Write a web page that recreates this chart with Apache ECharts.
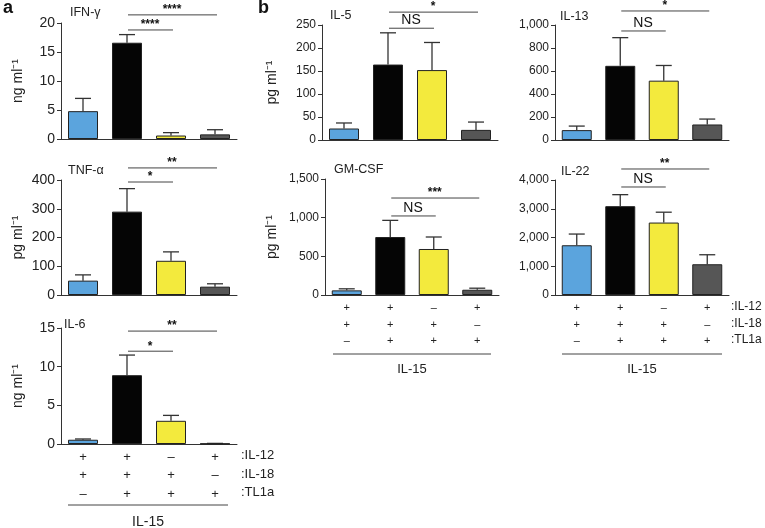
<!DOCTYPE html>
<html><head><meta charset="utf-8">
<script src="https://cdn.jsdelivr.net/npm/echarts@6/dist/echarts.min.js"></script>
<style>html,body{margin:0;padding:0;background:#fff}#c{width:765px;height:528px}</style>
</head><body><div id="c"></div>
<script>
// ---- data ----
const conditions = ['c1', 'c2', 'c3', 'c4'];
const il12Row = ['+', '+', '–', '+'];
const il18Row = ['+', '+', '+', '–'];
const tl1aRow = ['–', '+', '+', '+'];
const rowNames = [':IL-12', ':IL-18', ':TL1a'];
const groupName = 'IL-15';
const barColors = ['#5ba4dd', '#050505', '#f3ea3d', '#565656'];

const ifngMean = [4.8, 16.6, 0.6, 0.8];
const ifngErr = [7.0, 18.0, 1.1, 1.6];
const tnfMean = [50, 290, 119, 29];
const tnfErr = [70, 370, 150, 39];
const il6Mean = [0.55, 8.9, 3.0, 0.05];
const il6Err = [0.65, 11.5, 3.7, 0.08];
const il5Mean = [25, 164, 152, 22];
const il5Err = [37, 233, 212, 39];
const il13Mean = [86, 645, 516, 135];
const il13Err = [121, 890, 648, 182];
const gmcsfMean = [60, 750, 595, 68];
const gmcsfErr = [80, 965, 750, 88];
const il22Mean = [1730, 3090, 2520, 1070];
const il22Err = [2120, 3490, 2880, 1400];

// significance brackets: [from category, to category, height (data units), label]
const ifngSig = [[1, 3, 21.4, '****'], [1, 2, 18.8, '****']];
const tnfSig = [[1, 3, 442, '**'], [1, 2, 393, '*']];
const il6Sig = [[1, 3, 14.6, '**'], [1, 2, 12.0, '*']];
const il5Sig = [[1, 3, 278, '*'], [1, 2, 243, 'NS']];
const il13Sig = [[1, 3, 1122, '*'], [1, 2, 948, 'NS']];
const gmcsfSig = [[1, 3, 1254, '***'], [1, 2, 1022, 'NS']];
const il22Sig = [[1, 3, 4383, '**'], [1, 2, 3757, 'NS']];

// ---- layout ----
const FF = '"Liberation Sans", Arial, Helvetica, sans-serif';
const panels = [
  {title: 'IFN-γ', unit: 'ng ml⁻¹', mean: ifngMean, err: ifngErr, max: 20, step: 5, sig: ifngSig,
   grid: {left: 61, top: 23, width: 176, height: 116}, tpos: [70, 6], gap: 36, fs: 14, nfs: 14, bottom: false},
  {title: 'TNF-α', unit: 'pg ml⁻¹', mean: tnfMean, err: tnfErr, max: 400, step: 100, sig: tnfSig,
   grid: {left: 61, top: 180, width: 176, height: 115}, tpos: [68, 164], gap: 36, fs: 14, nfs: 14, bottom: false},
  {title: 'IL-6', unit: 'ng ml⁻¹', mean: il6Mean, err: il6Err, max: 15, step: 5, sig: il6Sig,
   grid: {left: 61, top: 328, width: 176, height: 116}, tpos: [64, 318], gap: 36, fs: 14, nfs: 14, bottom: true, lh: 18.5},
  {title: 'IL-5', unit: 'pg ml⁻¹', mean: il5Mean, err: il5Err, max: 250, step: 50, sig: il5Sig,
   grid: {left: 322, top: 25, width: 176, height: 115}, tpos: [330, 9], gap: 43, fs: 12, nfs: 14, bottom: false},
  {title: 'IL-13', unit: '', mean: il13Mean, err: il13Err, max: 1000, step: 200, sig: il13Sig,
   grid: {left: 555, top: 25, width: 174, height: 115}, tpos: [560, 10], gap: 44, fs: 12, nfs: 14, bottom: false},
  {title: 'GM-CSF', unit: 'pg ml⁻¹', mean: gmcsfMean, err: gmcsfErr, max: 1500, step: 500, sig: gmcsfSig,
   grid: {left: 325, top: 179, width: 174, height: 116}, tpos: [334, 163], gap: 46, fs: 12, nfs: 14, bottom: true, lh: 16.5},
  {title: 'IL-22', unit: '', mean: il22Mean, err: il22Err, max: 4000, step: 1000, sig: il22Sig,
   grid: {left: 555, top: 180, width: 174, height: 115}, tpos: [561, 165], gap: 44, fs: 12, nfs: 14, bottom: true, lh: 16.5}
];

const chart = echarts.init(document.getElementById('c'), null, {renderer: 'canvas'});

const series = [];
panels.forEach((p, i) => {
  series.push({
    type: 'bar', xAxisIndex: i, yAxisIndex: i, barWidth: 30, z: 3,
    data: p.mean.map((v, j) => ({value: v, itemStyle: {color: barColors[j]}})),
    itemStyle: {borderColor: '#222', borderWidth: 1},
    silent: true
  });
  series.push({
    type: 'custom', xAxisIndex: i, yAxisIndex: i, z: 2, silent: true,
    encode: {x: 0, y: [1, 2]},
    data: p.mean.map((v, j) => [j, v, p.err[j]]),
    renderItem: (params, api) => {
      const b = api.coord([api.value(0), api.value(1)]);
      const t = api.coord([api.value(0), api.value(2)]);
      const st = {stroke: '#333', lineWidth: 1.3};
      return {type: 'group', children: [
        {type: 'line', shape: {x1: b[0], y1: b[1], x2: t[0], y2: t[1]}, style: st},
        {type: 'line', shape: {x1: t[0] - 8, y1: t[1], x2: t[0] + 8, y2: t[1]}, style: st}
      ]};
    }
  });
  series.push({
    type: 'custom', xAxisIndex: i, yAxisIndex: i, z: 4, silent: true, clip: false,
    encode: {x: [0, 1], y: 2},
    data: p.sig.map(s => [s[0], s[1], s[2]]),
    renderItem: (params, api) => {
      const a = api.coord([api.value(0), api.value(2)]);
      const b = api.coord([api.value(1), api.value(2)]);
      const lab = p.sig[params.dataIndex][3];
      const isNS = lab === 'NS';
      return {type: 'group', children: [
        {type: 'line', shape: {x1: a[0] + 1, y1: a[1], x2: b[0] + 2, y2: b[1]}, style: {stroke: '#444', lineWidth: 1}},
        {type: 'text', x: (a[0] + b[0]) / 2 + 1, y: isNS ? a[1] - 1 : a[1] + 1,
         style: {text: lab, fill: '#111', font: (isNS ? 'normal 14px ' : 'bold 12px ') + FF,
                 align: 'center', verticalAlign: 'bottom'}}
      ]};
    }
  });
});

const titles = panels.map(p => ({
  text: p.title, left: p.tpos[0], top: p.tpos[1], padding: 0,
  textStyle: {fontSize: 12.5, fontWeight: 'normal', color: '#222', fontFamily: FF}
}));
titles.push({text: 'a', left: 3, top: -1, padding: 0, textStyle: {fontSize: 18, fontWeight: 'bold', color: '#111', fontFamily: FF}});
titles.push({text: 'b', left: 258, top: -1, padding: 0, textStyle: {fontSize: 18, fontWeight: 'bold', color: '#111', fontFamily: FF}});

const graphic = [];
// row labels
[[241, [457, 476, 494], 13], [731, [308, 324.5, 341], 12]].forEach(([x, ys, fs]) => {
  ys.forEach((y, k) => graphic.push({type: 'text', left: x, top: y - fs * 0.6,
    style: {text: rowNames[k], fill: '#222', font: 'normal ' + fs + 'px ' + FF}}));
});
// group underline + label
[[68, 228, 505, 522, 14], [333, 491, 354, 369, 13], [562, 722, 354, 369, 13]].forEach(([x1, x2, y, ly, fs]) => {
  graphic.push({type: 'line', shape: {x1: x1, y1: y, x2: x2, y2: y}, style: {stroke: '#444', lineWidth: 1}});
  graphic.push({type: 'text', x: (x1 + x2) / 2, y: ly,
    style: {text: groupName, fill: '#222', font: 'normal ' + fs + 'px ' + FF, align: 'center', verticalAlign: 'middle'}});
});

chart.setOption({
  animation: false,
  backgroundColor: '#fff',
  title: titles,
  grid: panels.map(p => Object.assign({containLabel: false}, p.grid)),
  xAxis: panels.map((p, i) => ({
    gridIndex: i, type: 'category', data: conditions,
    axisTick: {show: false},
    axisLine: {lineStyle: {color: '#333', width: 1}},
    axisLabel: p.bottom ? {
      show: true, interval: 0, margin: p.lh > 17 ? 4 : 5, lineHeight: p.lh,
      fontSize: p.fs - 1, color: '#222', fontFamily: FF,
      formatter: (v, j) => il12Row[j] + '\n' + il18Row[j] + '\n' + tl1aRow[j]
    } : {show: false}
  })),
  yAxis: panels.map((p, i) => ({
    gridIndex: i, type: 'value', min: 0, max: p.max, interval: p.step,
    name: p.unit, nameLocation: 'middle', nameGap: p.gap,
    nameTextStyle: {fontSize: p.nfs, color: '#222', fontFamily: FF},
    axisLine: {show: true, lineStyle: {color: '#333', width: 1}},
    axisTick: {show: true, length: 4, lineStyle: {color: '#333'}},
    splitLine: {show: false},
    axisLabel: {fontSize: p.fs, color: '#222', fontFamily: FF, margin: 6,
      formatter: v => v.toLocaleString('en-US')}
  })),
  series: series,
  graphic: graphic
});
</script></body></html>
